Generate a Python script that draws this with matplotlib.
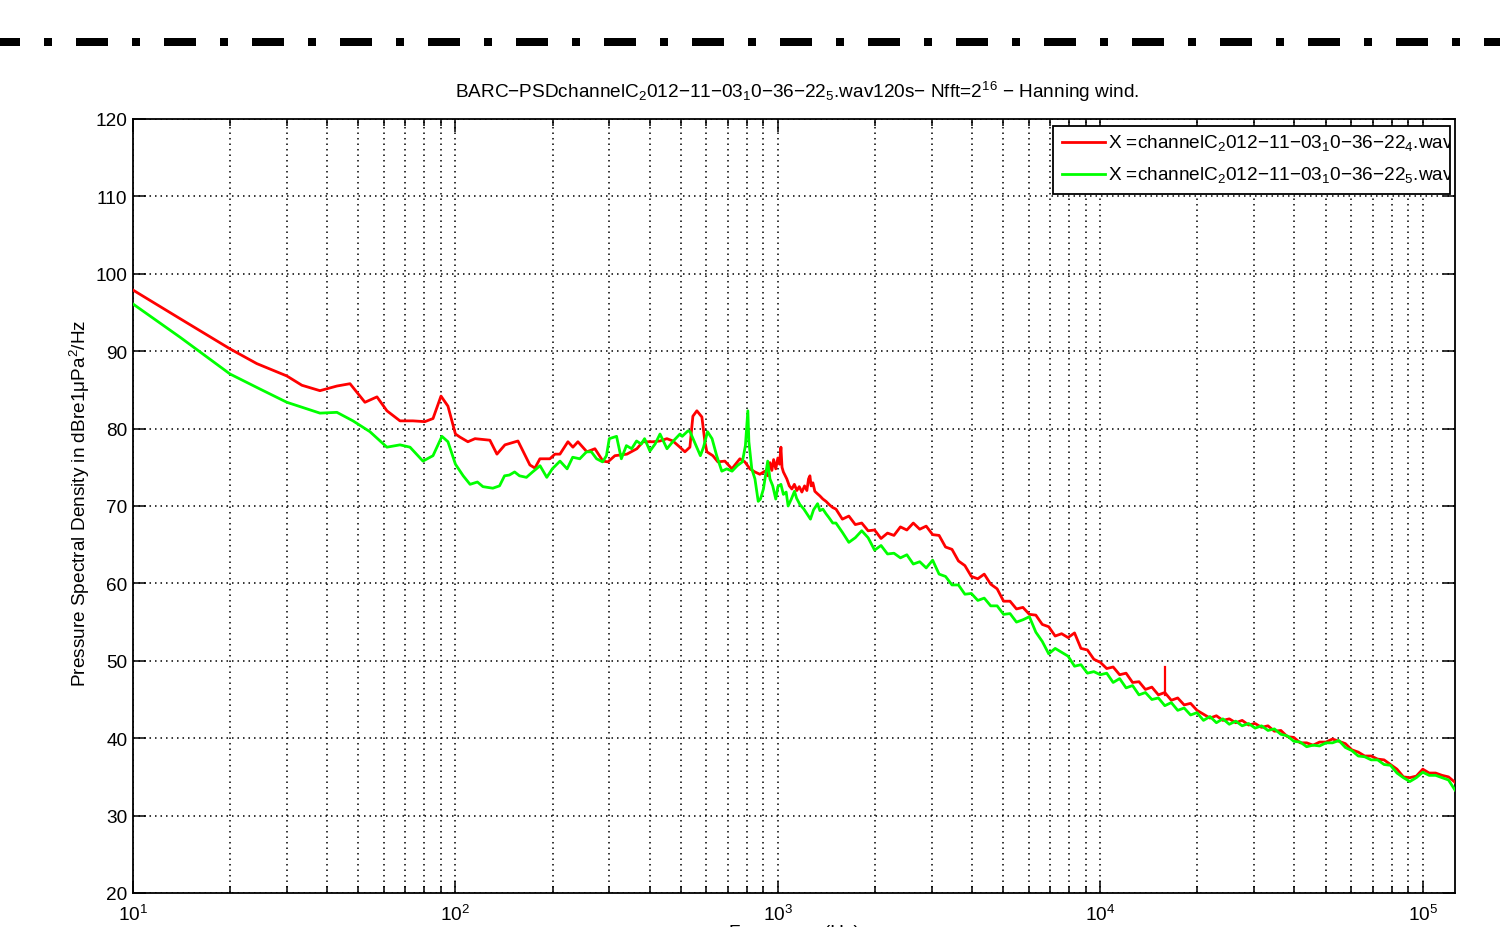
import matplotlib
matplotlib.use("Agg")
import matplotlib.pyplot as plt
import matplotlib.font_manager as fm
from matplotlib.lines import Line2D
from matplotlib.patches import Rectangle
from matplotlib.transforms import Bbox, TransformedBbox
from matplotlib.ticker import LogLocator, NullFormatter, FixedLocator
import numpy as np

# ---------------- data ----------------
# low / mid band, per channel
red_f_lo = [10, 14, 20, 24.2, 30, 33.4, 38, 42.9, 47.1, 52.4, 57.1, 61.3, 67.3, 73.8, 80.4,
            85.2, 90.2, 94.8, 100, 103.3, 109.3, 115, 127.9, 134.5, 142.4, 156.3, 170.2, 176.4,
            182.8, 196.3, 203.5, 210.9, 223.3, 231.4, 239.8, 255.7, 270.8, 286.7, 297.1, 312.3,
            340.2, 365.4, 381.4, 409.7, 430.7, 452.7, 472.5, 496.8, 514.8, 533.5, 545, 560.8,
            581.2, 593.8, 602.3, 628.6, 651.6, 684.9, 720, 762.3, 790, 819, 848.5, 879.4, 911.4,
            930, 945, 958, 970, 985, 1000, 1012, 1022, 1030, 1040, 1066, 1085, 1105, 1125, 1145,
            1165, 1187, 1210, 1230, 1245, 1257, 1268, 1284, 1302, 1325, 1350, 1379, 1410, 1450, 1480]
red_db_lo = [97.9, 94.2, 90.3, 88.4, 86.8, 85.6, 84.9, 85.5, 85.8, 83.4, 84.1, 82.3, 81.0, 81.0, 80.9,
             81.3, 84.2, 82.9, 79.3, 78.9, 78.3, 78.7, 78.5, 76.7, 77.9, 78.4, 75.3, 74.9,
             76.1, 76.1, 76.7, 76.7, 78.3, 77.6, 78.3, 77.0, 77.4, 75.8, 75.7, 76.5,
             76.7, 77.4, 78.3, 78.3, 78.4, 78.7, 78.4, 77.6, 77.0, 77.6, 81.6, 82.3,
             81.5, 78.3, 77.0, 76.5, 75.7, 75.8, 74.8, 76.1, 75.7, 74.8, 74.4, 74.1, 74.5,
             73.9, 75.6, 74.6, 76.0, 74.8, 76.2, 75.4, 77.6, 75.0, 74.4, 73.5, 72.6, 72.2, 72.8, 72.0,
             72.5, 71.8, 72.6, 72.0, 73.5, 73.9, 72.6, 73.0, 71.9, 71.6, 71.3, 70.9, 70.6, 70.1, 69.8]

green_f_lo = [10, 14, 20, 24.8, 30, 38, 42.9, 48.1, 54.3, 61.3, 67.3, 72.3, 79.3, 85.2, 90.8, 94.8,
              100, 105.7, 111, 117, 121.7, 130.6, 137, 142, 147, 152.6, 158, 166, 173.5, 183, 192,
              199.7, 211, 222, 231, 243, 255, 264, 274, 286, 294, 300, 316, 327, 339, 352, 364.5,
              377, 386, 401, 416, 431, 453, 474, 497, 505, 526, 534, 555, 575, 588, 605, 625, 646,
              670, 694, 721, 748, 776, 793, 807, 813, 830, 849, 869, 883, 902, 930, 945, 964, 985,
              1000, 1022, 1040, 1061, 1076, 1101, 1126, 1143, 1170, 1204, 1230, 1262, 1290, 1328,
              1350, 1379, 1410, 1440, 1480]
green_db_lo = [96.1, 91.8, 87.05, 85.1, 83.4, 82.0, 82.1, 81.0, 79.6, 77.6, 77.9, 77.6, 75.8, 76.5, 79.0, 78.3,
               75.4, 73.9, 72.8, 73.1, 72.5, 72.3, 72.6, 73.9, 74.0, 74.4, 73.9, 73.7, 74.4, 75.2, 73.7,
               74.8, 75.8, 74.8, 76.3, 76.1, 77.0, 77.0, 76.1, 75.7, 76.5, 78.7, 79.0, 76.1, 77.8, 77.4, 78.4,
               78.0, 78.7, 77.1, 78.0, 79.3, 77.4, 78.4, 79.3, 79.0, 79.7, 79.6, 78.0, 76.5, 77.6, 79.6, 78.7, 76.5,
               74.5, 74.8, 74.5, 75.2, 75.7, 77.8, 82.3, 78.3, 74.8, 73.5, 70.6, 70.9, 72.2, 75.8, 73.5, 72.6, 70.9,
               72.5, 72.8, 71.5, 71.8, 70.0, 70.9, 71.9, 71.0, 70.2, 69.6, 69.0, 68.3, 69.5, 70.3,
               69.4, 69.6, 69.0, 68.5, 67.8]

# high band, common frequency grid for both channels
freq_hi = [1514, 1585, 1660, 1738, 1820, 1905, 1995, 2089, 2188, 2291,
           2399, 2512, 2630, 2754, 2884, 3020, 3162, 3311, 3467, 3631,
           3802, 3981, 4169, 4365, 4571, 4786, 5012, 5248, 5495, 5754,
           6026, 6310, 6607, 6918, 7244, 7586, 7943, 8318, 8710, 9120,
           9550, 10000, 10470, 10960, 11480, 12020, 12590, 13180, 13800, 14450,
           15140, 15850, 16600, 17380, 18200, 19050, 19950, 20890, 21880, 22910,
           23990, 25120, 26300, 27540, 28840, 30200, 31620, 33110, 34670, 36310,
           38020, 39810, 41690, 43650, 45710, 47860, 50120, 52480, 54950, 57540,
           60260, 63100, 66070, 69180, 72440, 75860, 79430, 83180, 87100, 91200,
           95500, 100000, 104700, 109600, 114800, 120200, 125900]
red_db_hi = [69.6, 68.3, 68.7, 67.6, 67.8, 66.8, 66.9, 65.8, 66.5, 66.2,
             67.3, 66.9, 67.8, 67.0, 67.4, 66.3, 66.2, 64.7, 64.4, 62.9,
             62.3, 60.9, 60.6, 61.2, 59.9, 59.3, 57.7, 57.7, 56.7, 56.9,
             56.0, 55.9, 54.7, 54.4, 53.2, 53.5, 53.0, 53.6, 51.6, 51.4,
             50.2, 49.8, 49.0, 49.2, 48.2, 48.4, 47.2, 47.3, 46.3, 46.6,
             45.6, 45.9, 44.9, 45.2, 44.3, 44.5, 43.6, 43.1, 42.6, 42.9,
             42.3, 42.5, 42.0, 42.3, 41.7, 41.9, 41.4, 41.6, 40.9, 41.0,
             40.2, 40.1, 39.4, 39.4, 39.1, 39.5, 39.5, 39.9, 39.6, 39.3,
             38.5, 38.2, 37.7, 37.7, 37.3, 37.2, 36.6, 36.0, 35.0, 34.9,
             35.1, 36.0, 35.5, 35.5, 35.2, 35.0, 34.3]
green_db_hi = [67.8, 66.6, 65.3, 65.9, 66.8, 65.9, 64.3, 64.9, 63.8, 63.9,
               63.3, 63.7, 62.5, 62.8, 62.0, 63.0, 61.2, 60.9, 59.8, 59.8,
               58.6, 58.7, 57.8, 58.1, 57.1, 57.1, 56.0, 56.1, 55.0, 55.3,
               55.7, 53.7, 52.5, 50.9, 51.6, 51.1, 50.6, 49.3, 49.5, 48.4,
               48.6, 48.2, 48.4, 47.2, 47.7, 46.5, 46.8, 45.6, 45.9, 45.0,
               45.2, 44.2, 44.6, 43.6, 43.9, 43.0, 43.3, 42.3, 42.8, 42.0,
               42.5, 41.8, 42.2, 41.6, 41.9, 41.3, 41.6, 41.0, 41.2, 40.5,
               40.3, 39.6, 39.5, 38.9, 39.1, 39.0, 39.4, 39.4, 39.7, 38.8,
               38.4, 37.7, 37.6, 37.2, 37.2, 36.6, 36.5, 35.5, 34.9, 34.4,
               34.9, 35.6, 35.2, 35.2, 34.9, 34.6, 33.3]

# narrow line in the red channel
red_spike_f = [15850, 15850]
red_spike_db = [45.6, 49.2]

x_range = [10, 125900]
y_range = [20, 120]
y_ticks = [20, 30, 40, 50, 60, 70, 80, 90, 100, 110, 120]

title_txt = 'BARC\u2212PSDchannelC$_2$012\u221211\u221203$_1$0\u221236\u221222$_5$.wav120s\u2212 Nfft=2$^{16}$ \u2212 Hanning wind.'
legend_txt = ['X =channelC$_2$012\u221211\u221203$_1$0\u221236\u221222$_4$.wav',
              'X =channelC$_2$012\u221211\u221203$_1$0\u221236\u221222$_5$.wav']
ylabel_txt = 'Pressure Spectral Density in dBre1\u03bcPa$^2$/Hz'
xlabel_txt = 'Frequency (Hz)'

# ---------------- style ----------------
names = {f.name for f in fm.fontManager.ttflist}
fam = 'Liberation Sans' if 'Liberation Sans' in names else 'DejaVu Sans'
plt.rcParams['font.family'] = [fam, 'DejaVu Sans']
plt.rcParams['mathtext.default'] = 'regular'
FS = 13.7

W, H = 1500, 928
fig = plt.figure(figsize=(W / 100, H / 100), dpi=100)
fig.patch.set_facecolor('white')

# axes box in pixels
L, R, T, B = 133, 1455, 120, 894
ax = fig.add_axes([L / W, 1 - B / H, (R - L) / W, (B - T) / H])

red = '#ff0000'
green = '#00ff00'
ax.plot(red_f_lo + freq_hi, red_db_lo + red_db_hi, color=red, lw=2.0, zorder=3)
ax.plot(red_spike_f, red_spike_db, color=red, lw=1.6, zorder=3)
ax.plot(green_f_lo + freq_hi, green_db_lo + green_db_hi, color=green, lw=2.0, zorder=4)

ax.set_xscale('log')
ax.set_xlim(x_range)
ax.set_ylim(y_range)
ax.yaxis.set_major_locator(FixedLocator(y_ticks))
ax.xaxis.set_major_locator(LogLocator(base=10, numticks=10))
ax.xaxis.set_minor_locator(LogLocator(base=10, subs=np.arange(2, 10), numticks=100))
ax.xaxis.set_minor_formatter(NullFormatter())

ax.grid(True, which='major', axis='both', color='k', lw=1.1, ls=(0, (1, 2.6)))
ax.grid(True, which='minor', axis='x', color='k', lw=1.1, ls=(0, (1, 2.6)))
ax.set_axisbelow(True)

ax.tick_params(which='both', direction='in', top=True, right=True, color='k')
ax.tick_params(which='major', length=9, width=1.1, labelsize=FS, pad=4)
ax.tick_params(which='minor', length=5, width=1.1)
ax.tick_params(axis='x', which='major', pad=8)
for s in ax.spines.values():
    s.set_linewidth(1.3)
    s.set_color('k')

# manual legend (text clipped by its box as in the original)
def ax_xy(px, py):
    return (px - L) / (R - L), 1 - (py - T) / (B - T)

lx0, ly0 = ax_xy(1053, 195)
lx1, ly1 = ax_xy(1450, 127)
rect = Rectangle((lx0, ly0), lx1 - lx0, ly1 - ly0, transform=ax.transAxes,
                 facecolor='white', edgecolor='k', lw=1.3, zorder=6)
ax.add_patch(rect)
clipbox = TransformedBbox(Bbox([[lx0, ly0], [lx1, ly1]]), ax.transAxes)
for py, col, txt in [(143, red, legend_txt[0]), (175, green, legend_txt[1])]:
    a0, yy = ax_xy(1062, py)
    a1, _ = ax_xy(1105, py)
    ax.add_line(Line2D([a0, a1], [yy, yy], transform=ax.transAxes, color=col, lw=2.0, zorder=7))
    tx, _ = ax_xy(1108, py)
    t = ax.text(tx, yy, txt, transform=ax.transAxes, fontsize=FS, va='center', ha='left', zorder=7)
    t.set_clip_box(clipbox)
    t.set_clip_on(True)

# title, axis labels (the x label sits at the page edge, as in the original)
fig.text(797 / W, 1 - 98 / H, title_txt, ha='center', va='baseline', fontsize=FS)
fig.text(80 / W, 1 - 503 / H, ylabel_txt, ha='center', va='center', rotation=90, fontsize=FS)
fig.text(794 / W, 1 - 925 / H, xlabel_txt, ha='center', va='top', fontsize=FS)

# page decoration: thick dash-dot rule at the top
fig.add_artist(Line2D([0, 1.0], [1 - 43.3 / H] * 2, transform=fig.transFigure,
                      color='k', lw=5.76, ls=(1.5, (4, 3, 1, 3)), dash_capstyle='butt'))

fig.savefig('out.png', dpi=100)
